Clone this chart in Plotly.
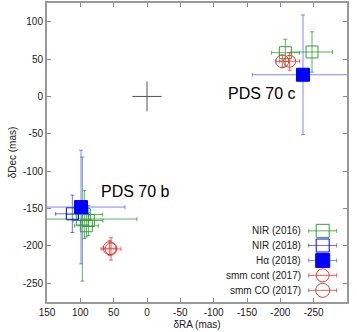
import plotly.graph_objects as go

# Relative astrometry of PDS 70 b and c (mas), one list per data set
nir16_ra = [-247.5, -207.5, 97, 94, 88, 91]
nir16_dec = [59.5, 58.5, -164, -158, -166, -173]
nir16_era = [31, 21, 82, 27, 22, 18]
nir16_edec = [27, 18, 83, 32, 20, 15]

nir18_ra = [112]
nir18_dec = [-157]
nir18_era = [25]
nir18_edec = [25]

ha18_ra = [-234, 99]
ha18_dec = [29, -148]
ha18_era = [76, 66]
ha18_edec = [80, 76]

cont17_ra = [-214, 54]
cont17_dec = [47, -204]
cont17_era = [15, 15]
cont17_edec = [12, 15]

co17_ra = [-203, 56]
co17_dec = [47, -203]
co17_era = [10, 10]
co17_edec = [8, 10]

star_ra = [0]
star_dec = [0]
star_era = [22]
star_edec = [20]

planet_names = ["PDS 70 c", "PDS 70 b"]
planet_label_ra = [-173, 17.5]
planet_label_dec = [4.6, -127]

ra_ticks = [150, 100, 50, 0, -50, -100, -150, -200, -250, -300]
dec_ticks = [-250, -200, -150, -100, -50, 0, 50, 100]

legend_names = ["NIR (2016)", "NIR (2018)", "H\u03b1 (2018)", "smm cont (2017)", "smm CO (2017)"]

GREEN = "#33a033"
BLUE = "#0000ff"
RED = "#ff3333"
DRED = "#c04848"
FONT = "Liberation Sans, Arial, sans-serif"

styles = [
    # name, ra, dec, era, edec, color, symbol, size, bar color
    ("NIR (2016)", nir16_ra, nir16_dec, nir16_era, nir16_edec, GREEN, "square-open", 12, "rgba(51,160,51,0.8)"),
    ("NIR (2018)", nir18_ra, nir18_dec, nir18_era, nir18_edec, BLUE, "square-open", 12, "rgba(60,60,255,0.75)"),
    ("smm CO (2017)", co17_ra, co17_dec, co17_era, co17_edec, DRED, "circle-open", 13, "rgba(192,72,72,0.8)"),
    ("smm cont (2017)", cont17_ra, cont17_dec, cont17_era, cont17_edec, RED, "circle-open", 12, "rgba(255,51,51,0.8)"),
    ("H\u03b1 (2018)", ha18_ra, ha18_dec, ha18_era, ha18_edec, BLUE, "square", 13, "rgba(80,80,255,0.7)"),
]

fig = go.Figure()

# host star position
fig.add_trace(go.Scatter(
    x=star_ra, y=star_dec, mode="markers",
    marker=dict(size=1, color="rgba(0,0,0,0)"),
    error_x=dict(type="data", array=star_era, color="#555555", thickness=1, width=0),
    error_y=dict(type="data", array=star_edec, color="#555555", thickness=1, width=0),
    showlegend=False, hoverinfo="skip",
))

for name, ra, dec, era, edec, col, sym, size, barcol in styles:
    fig.add_trace(go.Scatter(
        x=ra, y=dec, mode="markers", name=name,
        marker=dict(symbol=sym, size=size, color=col, line=dict(color=col, width=1)),
        error_x=dict(type="data", array=era, color=barcol, thickness=1, width=2),
        error_y=dict(type="data", array=edec, color=barcol, thickness=1, width=2),
        showlegend=False,
    ))

# key drawn on an overlay axis spanning [0, 1] in both directions
key_x = 0.919
key_half = 0.0466
key_rows = [0.238, 0.189, 0.139, 0.089, 0.039]
key_style = {s[0]: s for s in styles}
for name, ky in zip(legend_names, key_rows):
    _, _, _, _, _, col, sym, size, barcol = key_style[name]
    fig.add_trace(go.Scatter(
        x=[key_x], y=[ky], xaxis="x2", yaxis="y2", mode="markers",
        marker=dict(symbol=sym, size=size + 1, color=col, line=dict(color=col, width=1)),
        error_x=dict(type="data", array=[key_half], color=barcol, thickness=1, width=2),
        showlegend=False, hoverinfo="skip",
    ))
    fig.add_annotation(
        x=0.853, y=ky, xref="x2", yref="y2", text=name, showarrow=False,
        xanchor="right", yanchor="middle",
        font=dict(family=FONT, size=10, color="#222222"),
    )

for name, lx, ly in zip(planet_names, planet_label_ra, planet_label_dec):
    fig.add_annotation(
        x=lx, y=ly, text=name, showarrow=False, xanchor="center", yanchor="middle",
        font=dict(family=FONT, size=16, color="#000000"),
    )

axis_common = dict(
    showline=True, linecolor="#999999", linewidth=2, mirror="ticks",
    ticks="inside", ticklen=4, tickcolor="#888888", tickwidth=1,
    showgrid=False, zeroline=False,
    tickfont=dict(family=FONT, size=10, color="#222222"),
)

fig.update_layout(
    width=357, height=332,
    margin=dict(l=47, r=10, t=1, b=30),
    paper_bgcolor="white", plot_bgcolor="white",
    showlegend=False,
    xaxis=dict(range=[150, -300], tickmode="array", tickvals=ra_ticks,
               ticktext=[str(v) for v in ra_ticks],
               title=dict(text="\u03b4RA (mas)", standoff=4,
                          font=dict(family=FONT, size=10, color="#222222")),
               **axis_common),
    yaxis=dict(range=[-275, 125], tickmode="array", tickvals=dec_ticks,
               ticktext=[str(v) for v in dec_ticks],
               title=dict(text="\u03b4Dec (mas)", standoff=4,
                          font=dict(family=FONT, size=10, color="#222222")),
               **axis_common),
    xaxis2=dict(overlaying="x", range=[0, 1], visible=False),
    yaxis2=dict(overlaying="y", range=[0, 1], visible=False),
)

fig.write_html("out.html")
